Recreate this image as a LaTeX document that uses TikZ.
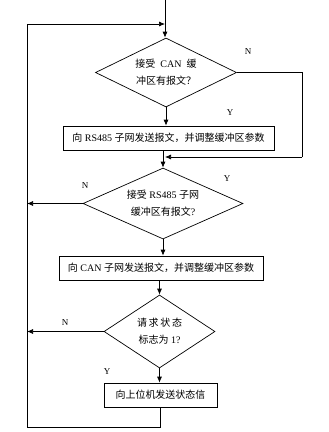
\documentclass[tikz,border=0pt]{standalone}
\usepackage{fontspec}
\setmainfont{Liberation Serif}
\newfontfamily\cjk{Noto Sans CJK SC}
\usetikzlibrary{shapes.geometric,arrows.meta}
\tikzset{
  flow/.style={draw=black,line width=0.7pt},
  arr/.style={flow,-{Latex[length=6pt,width=5pt]}},
  dec/.style={diamond,draw=black,line width=0.7pt,inner sep=0pt,shape aspect=2,align=center,font=\fontsize{10}{17}\selectfont},
  proc/.style={rectangle,draw=black,line width=0.7pt,inner sep=0pt,align=center,font=\fontsize{10}{12}\selectfont},
  lbl/.style={font=\fontsize{9}{10}\selectfont,inner sep=0pt}
}
\begin{document}
\begin{tikzpicture}[x=1pt,y=-1pt]
\useasboundingbox (0,0) rectangle (329,432);
\node[dec,minimum width=141pt,minimum height=69pt] (d1) at (166,72.5) {{\cjk 接受}\ \ CAN\ \ {\cjk 缓}\\{\cjk 冲区有报文？}};
\node[proc,minimum width=211pt,minimum height=24pt] (b1) at (168.5,138) {{\cjk 向} RS485 {\cjk 子网发送报文，并调整缓冲区参数}};
\node[dec,minimum width=160pt,minimum height=71pt] (d2) at (163,203.5) {{\cjk 接受} RS485 {\cjk 子网}\\{\cjk 缓冲区有报文}?};
\node[proc,minimum width=204pt,minimum height=24pt] (b2) at (161,268) {{\cjk 向} CAN {\cjk 子网发送报文，并调整缓冲区参数}};
\node[dec,minimum width=111pt,minimum height=73pt] (d3) at (159.5,331.5) {{\cjk 请\,求\,状\,态}\\{\cjk 标志为} 1?};
\node[proc,minimum width=113pt,minimum height=24pt] (b3) at (160.5,395) {{\cjk 向上位机发送状态信}};

\coordinate (top) at (165,0);
\coordinate (j0) at (165,24);
\coordinate (tl) at (27,24);
\coordinate (bl) at (27,427);
\coordinate (r1) at (302,157);
\coordinate (j1) at (165,157);

\draw[flow] (top) -- (j0);
\draw[arr] (j0) -- (j0 |- d1.north);
\draw[arr] (d1.south) -- (d1.south |- b1.north);
\draw[flow] (d1.east) -| (r1);
\draw[arr] (r1) -- (j1);
\draw[arr] (b1.south -| d2.north) -- (d2.north);
\draw[arr] (d2.south) -- (d2.south |- b2.north);
\draw[arr] (b2.south -| d3.north) -- (d3.north);
\draw[arr] (d3.south) -- (d3.south |- b3.north);
\draw[arr] (d2.west) -- (d2.west -| tl);
\draw[arr] (d3.west) -- (d3.west -| tl);
\draw[arr] (b3.south) |- (bl) -- (tl) -- (j0);

\node[lbl] (n1) at (248,52) {N};
\node[lbl] (y1) at (230,113) {Y};
\node[lbl] (n2) at (85,186) {N};
\node[lbl] (y2) at (227,179) {Y};
\node[lbl] (n3) at (65,323) {N};
\node[lbl] (y3) at (107,372) {Y};
\end{tikzpicture}
\end{document}
